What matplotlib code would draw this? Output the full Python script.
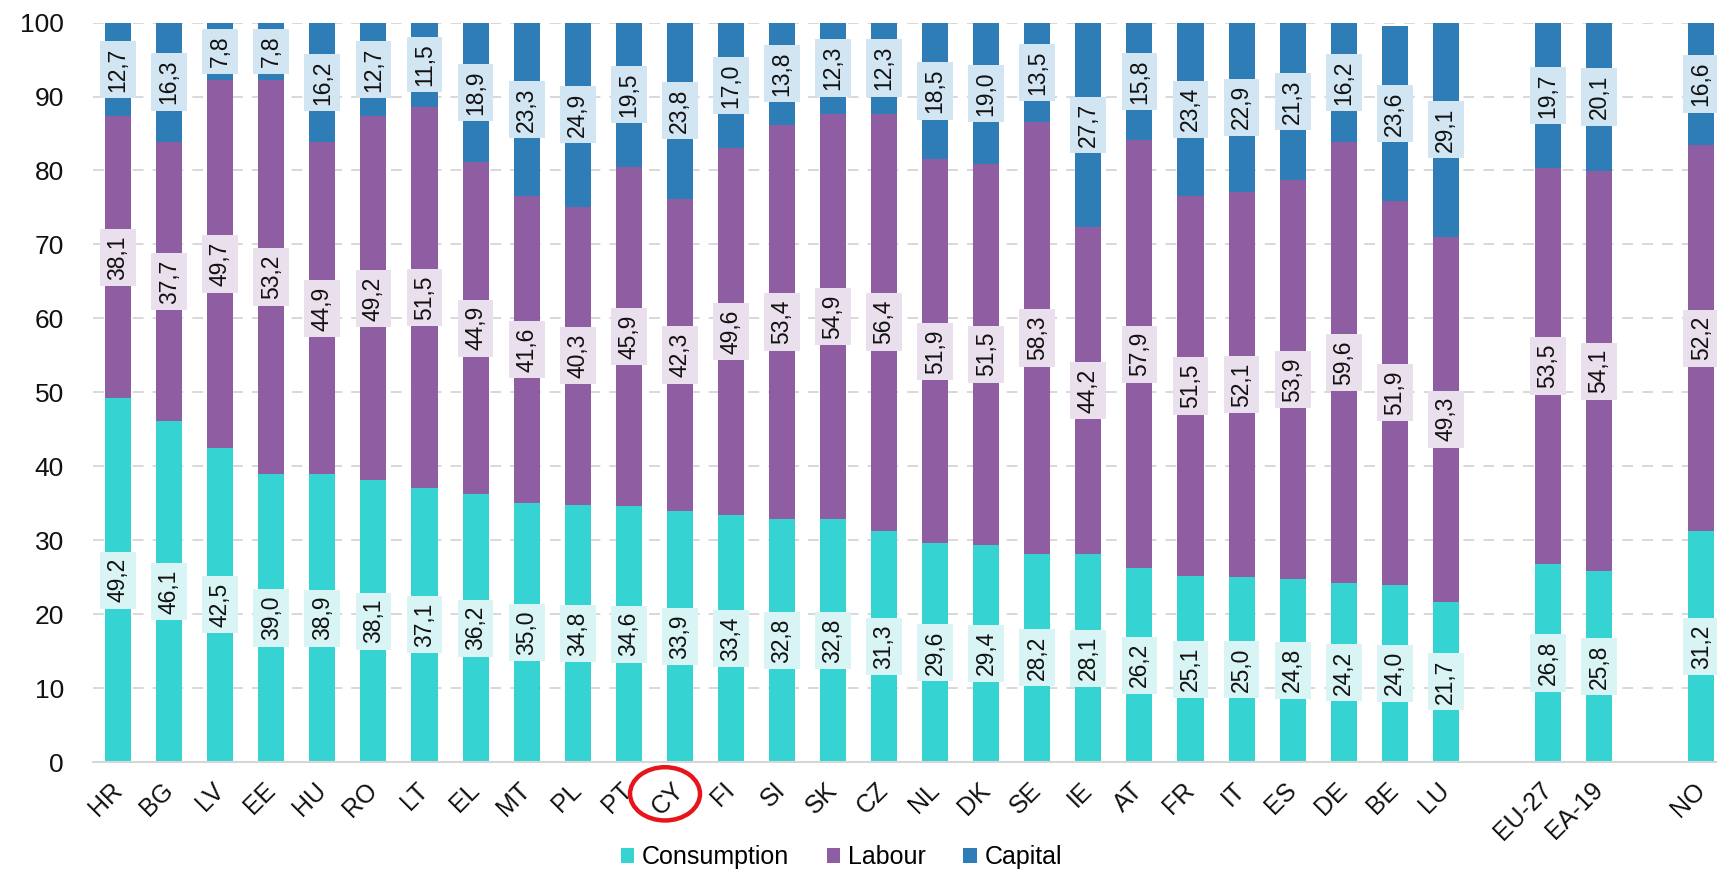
import matplotlib.pyplot as plt
from matplotlib.patches import Ellipse
from matplotlib.transforms import blended_transform_factory

plt.rcParams['font.family'] = ['Liberation Sans', 'DejaVu Sans']

# data (shares in %)
countries = ['HR', 'BG', 'LV', 'EE', 'HU', 'RO', 'LT', 'EL', 'MT', 'PL', 'PT', 'CY',
             'FI', 'SI', 'SK', 'CZ', 'NL', 'DK', 'SE', 'IE', 'AT', 'FR', 'IT', 'ES',
             'DE', 'BE', 'LU', 'EU-27', 'EA-19', 'NO']
consumption = [49.2, 46.1, 42.5, 39.0, 38.9, 38.1, 37.1, 36.2, 35.0, 34.8, 34.6, 33.9,
               33.4, 32.8, 32.8, 31.3, 29.6, 29.4, 28.2, 28.1, 26.2, 25.1, 25.0, 24.8,
               24.2, 24.0, 21.7, 26.8, 25.8, 31.2]
labour = [38.1, 37.7, 49.7, 53.2, 44.9, 49.2, 51.5, 44.9, 41.6, 40.3, 45.9, 42.3,
          49.6, 53.4, 54.9, 56.4, 51.9, 51.5, 58.3, 44.2, 57.9, 51.5, 52.1, 53.9,
          59.6, 51.9, 49.3, 53.5, 54.1, 52.2]
capital = [12.7, 16.3, 7.8, 7.8, 16.2, 12.7, 11.5, 18.9, 23.3, 24.9, 19.5, 23.8,
           17.0, 13.8, 12.3, 12.3, 18.5, 19.0, 13.5, 27.7, 15.8, 23.4, 22.9, 21.3,
           16.2, 23.6, 29.1, 19.7, 20.1, 16.6]

# gaps before the aggregates and before NO
positions = list(range(27)) + [28, 29, 31]

col_cons = '#36d3d3'
col_lab = '#8f5da2'
col_cap = '#2e7db6'
box_cons = '#d8f4f4'
box_lab = '#eadfec'
box_cap = '#d2e5f2'


def fmt(v):
    return ('%.1f' % v).replace('.', ',')


fig = plt.figure(figsize=(17.17, 8.72), dpi=100)
ax = fig.add_axes([0.0542, 0.1261, 0.9458, 0.848])

w = 0.51
bottom_lab = [c for c in consumption]
bottom_cap = [c + l for c, l in zip(consumption, labour)]

ax.bar(positions, consumption, w, color=col_cons, label='Consumption', zorder=2)
ax.bar(positions, labour, w, bottom=bottom_lab, color=col_lab, label='Labour', zorder=2)
ax.bar(positions, capital, w, bottom=bottom_cap, color=col_cap, label='Capital', zorder=2)

# value labels in the middle of every segment
for i, x in enumerate(positions):
    segs = [(consumption[i], 0, box_cons),
            (labour[i], bottom_lab[i], box_lab),
            (capital[i], bottom_cap[i], box_cap)]
    for v, b, bc in segs:
        ax.text(x, b + v / 2, fmt(v), rotation=90, ha='center', va='center',
                fontsize=16.5, color='#111111', zorder=4,
                bbox=dict(boxstyle='square,pad=0.28', facecolor=bc, edgecolor='none'))

ax.set_ylim(0, 100)
ax.set_xlim(-0.49, 31.31)
ax.set_yticks(range(0, 101, 10))
ax.yaxis.grid(True, linestyle=(0, (6, 5)), color='#d6d6d6', linewidth=1.3, zorder=0)
ax.set_axisbelow(True)

ax.set_xticks(positions)
ax.set_xticklabels(countries, rotation=45, ha='right', va='center',
                   rotation_mode='anchor', fontsize=18, color='#111111')
ax.tick_params(axis='y', length=0, labelsize=19, labelcolor='#111111', pad=21)
ax.tick_params(axis='x', length=0, pad=17.5)

for s in ['top', 'right', 'left']:
    ax.spines[s].set_visible(False)
ax.spines['bottom'].set_color('#d6d6d6')
ax.spines['bottom'].set_linewidth(1.5)

# red circle around CY
trans = blended_transform_factory(ax.transData, ax.transAxes)
cy = positions[countries.index('CY')]
circ = Ellipse((cy - 0.29, -0.043), 1.37, 0.072, transform=trans, fill=False,
               edgecolor='#e8141b', linewidth=3.2, clip_on=False)
ax.add_patch(circ)

fig.legend(loc='center', bbox_to_anchor=(0.49, 0.017), ncol=3, frameon=False,
           fontsize=18, handlelength=0.55, handleheight=0.55, columnspacing=1.5,
           handletextpad=0.3, borderpad=0)

fig.savefig('out.png', dpi=100)
